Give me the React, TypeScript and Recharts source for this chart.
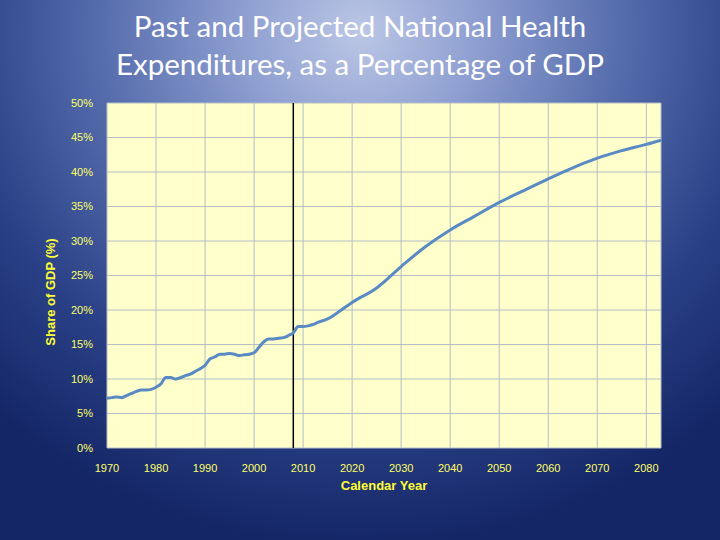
import React from 'react';
import { LineChart, Line, XAxis, YAxis, CartesianGrid, ReferenceLine } from 'recharts';

// Year columns and share of GDP (%)
const years = [
  1970, 1971, 1972, 1973, 1974, 1975, 1976, 1977, 1978, 1979,
  1980, 1981, 1982, 1983, 1984, 1985, 1986, 1987, 1988, 1989,
  1990, 1991, 1992, 1993, 1994, 1995, 1996, 1997, 1998, 1999,
  2000, 2001, 2002, 2003, 2004, 2005, 2006, 2007, 2008, 2009,
  2010, 2011, 2012, 2013, 2015, 2017, 2020, 2025, 2030, 2035,
  2040, 2045, 2050, 2055, 2060, 2065, 2070, 2075, 2080, 2083,
];
const shareOfGdp = [
  7.2, 7.3, 7.4, 7.3, 7.6, 7.9, 8.2, 8.4, 8.4, 8.5,
  8.8, 9.3, 10.2, 10.2, 10.0, 10.2, 10.5, 10.7, 11.1, 11.5,
  12.0, 12.9, 13.2, 13.6, 13.6, 13.7, 13.6, 13.4, 13.5, 13.6,
  13.8, 14.6, 15.4, 15.8, 15.8, 15.9, 16.0, 16.3, 16.7, 17.6,
  17.6, 17.7, 17.9, 18.2, 18.7, 19.6, 21.1, 23.2, 26.3, 29.2,
  31.6, 33.6, 35.6, 37.3, 39.0, 40.6, 42.0, 43.1, 44.0, 44.6,
];
const xTicks = [1970, 1980, 1990, 2000, 2010, 2020, 2030, 2040, 2050, 2060, 2070, 2080];
const yTicks = [0, 5, 10, 15, 20, 25, 30, 35, 40, 45, 50];
const splitYear = 2008;

const data = years.map((year, i) => ({ year, share: shareOfGdp[i] }));

const tickStyle = { fill: '#ffff66', fontSize: 11, fontFamily: '"Liberation Sans", Arial, sans-serif' };

export default function App() {
  return (
    <div
      style={{
        position: 'absolute', left: 0, top: 0, width: 720, height: 540, overflow: 'hidden',
        background: 'radial-gradient(ellipse 75% 95% at 50% 6%, #bcc7e6 0%, #8d9ed0 22%, #5269aa 50%, #2a4086 75%, #142666 100%)',
      }}
    >
      <div
        style={{
          position: 'absolute', left: 0, top: 7, width: 720, textAlign: 'center',
          color: '#ffffff', fontFamily: 'Lato, "Open Sans", sans-serif', fontSize: 29.5, lineHeight: '38px',
        }}
      >
        Past and Projected National Health
        <br />
        Expenditures, as a Percentage of GDP
      </div>
      <div style={{ position: 'absolute', left: 0, top: 0 }}>
        <LineChart width={720} height={540} data={data} margin={{ top: 103, right: 59, bottom: 42, left: 47 }}>
          <CartesianGrid fill="#ffffcc" stroke="#b4bec4" strokeWidth={1} />
          <XAxis
            dataKey="year"
            type="number"
            domain={[1970, 2083]}
            ticks={xTicks}
            interval={0}
            axisLine={false}
            tickLine={false}
            tick={tickStyle}
            tickMargin={10}
            height={50}
            label={{
              value: 'Calendar Year', position: 'insideBottom', offset: 8,
              style: { fill: '#ffff33', fontSize: 13, fontWeight: 'bold', fontFamily: '"Liberation Sans", Arial, sans-serif' },
            }}
          />
          <YAxis
            type="number"
            domain={[0, 50]}
            ticks={yTicks}
            interval={0}
            axisLine={false}
            tickLine={false}
            tick={tickStyle}
            tickMargin={8}
            tickFormatter={(v: number) => `${v}%`}
            width={60}
            label={() => (
              <text
                x={55}
                y={292}
                transform="rotate(-90 55 292)"
                textAnchor="middle"
                fill="#ffff33"
                fontSize={13}
                fontWeight="bold"
                fontFamily='"Liberation Sans", Arial, sans-serif'
              >
                Share of GDP (%)
              </text>
            )}
          />
          <ReferenceLine x={splitYear} stroke="#000000" strokeWidth={1.5} />
          <Line
            type="monotone"
            dataKey="share"
            stroke="#5a8ac4"
            strokeWidth={3}
            dot={false}
            isAnimationActive={false}
          />
        </LineChart>
      </div>
    </div>
  );
}
